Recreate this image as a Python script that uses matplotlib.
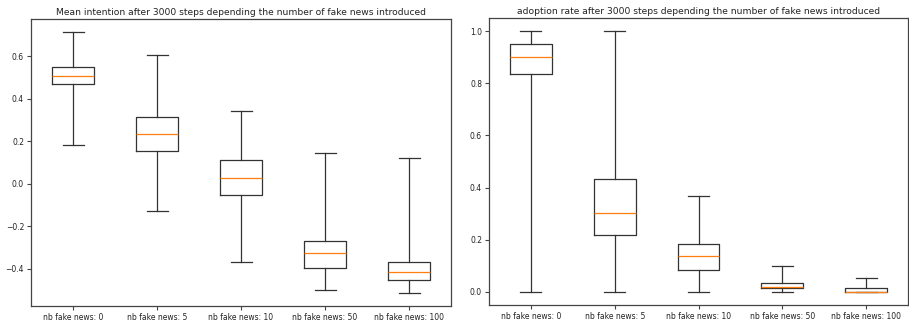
import matplotlib.pyplot as plt

labels = ["nb fake news: 0", "nb fake news: 5", "nb fake news: 10",
          "nb fake news: 50", "nb fake news: 100"]

# box stats: low whisker, q1, median, q3, high whisker
intent_lo = [0.182, -0.130, -0.371, -0.500, -0.515]
intent_q1 = [0.470, 0.154, -0.052, -0.396, -0.454]
intent_med = [0.507, 0.232, 0.025, -0.329, -0.415]
intent_q3 = [0.551, 0.313, 0.113, -0.268, -0.367]
intent_hi = [0.714, 0.605, 0.342, 0.146, 0.121]

adopt_lo = [0.0, 0.0, 0.0, 0.0, 0.0]
adopt_q1 = [0.834, 0.217, 0.084, 0.017, 0.0]
adopt_med = [0.901, 0.301, 0.136, 0.018, 0.0]
adopt_q3 = [0.950, 0.433, 0.185, 0.034, 0.017]
adopt_hi = [1.0, 1.0, 0.367, 0.101, 0.052]


def make_stats(lo, q1, med, q3, hi):
    stats = []
    for i in range(len(labels)):
        stats.append({"label": labels[i], "whislo": lo[i], "q1": q1[i],
                      "med": med[i], "q3": q3[i], "whishi": hi[i], "fliers": []})
    return stats


plt.rcParams["lines.linewidth"] = 0.9
plt.rcParams["axes.linewidth"] = 0.9
plt.rcParams["axes.edgecolor"] = "#444444"
plt.rcParams["text.color"] = "#222222"
plt.rcParams["xtick.color"] = "#444444"
plt.rcParams["ytick.color"] = "#444444"

fig = plt.figure(figsize=(9.09, 3.24), dpi=100)
ax1 = fig.add_axes([31 / 909, 18 / 324, 420 / 909, 287 / 324])
ax2 = fig.add_axes([489 / 909, 19 / 324, 419 / 909, 287 / 324])

box_style = dict(boxprops=dict(color="#333333", linewidth=0.9),
                 whiskerprops=dict(color="#333333", linewidth=0.9),
                 capprops=dict(color="#333333", linewidth=0.9),
                 medianprops=dict(color="#ff7f0e", linewidth=0.9))

ax1.bxp(make_stats(intent_lo, intent_q1, intent_med, intent_q3, intent_hi), **box_style)
ax1.set_title("Mean intention after 3000 steps depending the number of fake news introduced",
              fontsize=6.6, pad=3)

ax2.bxp(make_stats(adopt_lo, adopt_q1, adopt_med, adopt_q3, adopt_hi), **box_style)
ax2.set_title("adoption rate after 3000 steps depending the number of fake news introduced",
              fontsize=6.6, pad=3)

for ax in (ax1, ax2):
    ax.tick_params(labelsize=5.5, length=3, pad=2, labelcolor="#222222")

fig.savefig("out.png", dpi=100)
